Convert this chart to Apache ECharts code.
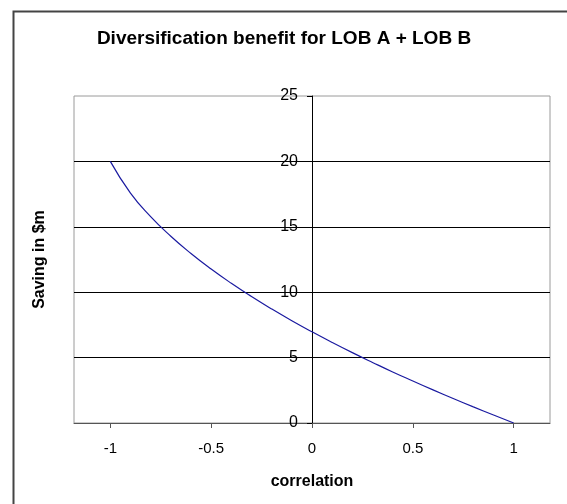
<!DOCTYPE html>
<html>
<head>
<meta charset="utf-8">
<script src="https://cdn.jsdelivr.net/npm/echarts@6/dist/echarts.min.js"></script>
<style>
html,body{margin:0;padding:0;background:#fff;}
#chart{width:567px;height:504px;}
</style>
</head>
<body>
<div id="chart"></div>
<script>
const titleText = "Diversification benefit for LOB A + LOB B";
const xAxisName = "correlation";
const yAxisName = "Saving in $m";
const xTickValues = [-1, -0.5, 0, 0.5, 1];
const correlation = [-1, -0.9, -0.8, -0.7, -0.6, -0.5, -0.4, -0.3, -0.2, -0.1, 0, 0.1, 0.2, 0.3, 0.4, 0.5, 0.6, 0.7, 0.8, 0.9, 1];
const saving = [20, 17.58, 15.78, 14.28, 12.96, 11.77, 10.68, 9.67, 8.72, 7.82, 6.97, 6.16, 5.38, 4.63, 3.90, 3.21, 2.53, 1.87, 1.23, 0.61, 0];

const GRID_LEFT = 74, GRID_RIGHT = 17;
const X_MIN = -1.18, X_MAX = 1.18;
const plotW = 567 - GRID_LEFT - GRID_RIGHT;
const zeroOffset = plotW * (0 - X_MIN) / (X_MAX - X_MIN);

const chart = echarts.init(document.getElementById('chart'), null, {renderer: 'canvas'});
const FONT = '"Liberation Sans", Arial, sans-serif';
chart.setOption({
  animation: false,
  backgroundColor: '#fff',
  title: {
    text: titleText,
    left: 279, top: 24, textAlign: 'center',
    textStyle: {fontFamily: FONT, fontSize: 19, fontWeight: 'bold', color: '#000'}
  },
  graphic: [{
    type: 'rect', left: 11, top: 9, z: -1,
    shape: {width: 620, height: 560},
    style: {fill: 'none', stroke: '#444', lineWidth: 2}
  }],
  grid: {left: GRID_LEFT, right: GRID_RIGHT, top: 96, bottom: 81, show: true, borderColor: '#9a9a9a', borderWidth: 1, outerBoundsMode: 'none', containLabel: false},
  xAxis: {
    type: 'value', min: X_MIN, max: X_MAX,
    name: xAxisName, nameLocation: 'middle', nameGap: 51,
    nameTextStyle: {fontFamily: FONT, fontSize: 16, fontWeight: 'bold', color: '#000'},
    axisLine: {show: true, onZero: false, lineStyle: {color: '#555', width: 1}},
    axisTick: {show: true, length: 5, customValues: xTickValues, lineStyle: {color: '#555'}},
    axisLabel: {customValues: xTickValues, margin: 18, fontFamily: FONT, fontSize: 15, color: '#000'},
    splitLine: {show: false}
  },
  yAxis: {
    type: 'value', min: 0, max: 25, interval: 5,
    position: 'left', offset: -zeroOffset,
    name: yAxisName, nameLocation: 'middle', nameGap: zeroOffset + 26, nameRotate: 90,
    nameTextStyle: {fontFamily: FONT, fontSize: 16, fontWeight: 'bold', color: '#000'},
    axisLine: {show: true, onZero: false, lineStyle: {color: '#000', width: 1}},
    axisTick: {show: true, length: 5, lineStyle: {color: '#000'}},
    axisLabel: {margin: 14, fontFamily: FONT, fontSize: 16, color: '#000'},
    splitLine: {show: true, showMinLine: false, showMaxLine: false, lineStyle: {color: '#000', width: 1}}
  },
  series: [{
    type: 'line',
    data: correlation.map((c, i) => [c, saving[i]]),
    smooth: true,
    showSymbol: false,
    lineStyle: {color: '#1a1aa0', width: 1.2},
    itemStyle: {color: '#1a1aa0'}
  }]
});
</script>
</body>
</html>
